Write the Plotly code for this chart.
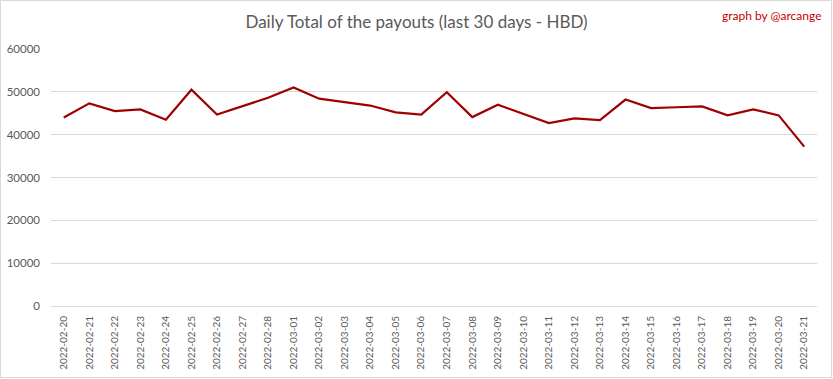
import plotly.graph_objects as go

dates = ["2022-02-20", "2022-02-21", "2022-02-22", "2022-02-23", "2022-02-24", "2022-02-25",
         "2022-02-26", "2022-02-27", "2022-02-28", "2022-03-01", "2022-03-02", "2022-03-03",
         "2022-03-04", "2022-03-05", "2022-03-06", "2022-03-07", "2022-03-08", "2022-03-09",
         "2022-03-10", "2022-03-11", "2022-03-12", "2022-03-13", "2022-03-14", "2022-03-15",
         "2022-03-16", "2022-03-17", "2022-03-18", "2022-03-19", "2022-03-20", "2022-03-21"]
payouts = [44000, 47300, 45500, 45900, 43500, 50500,
           44700, 46700, 48600, 51000, 48400, 47600,
           46800, 45200, 44700, 49900, 44100, 47000,
           44900, 42700, 43800, 43400, 48200, 46200,
           46400, 46600, 44500, 45900, 44500, 37200]
y_ticks = [0, 10000, 20000, 30000, 40000, 50000, 60000]

W, H = 833, 379
ml, mr, mt, mb = 51, 16, 49, 73
pw, ph = W - ml - mr, H - mt - mb

fig = go.Figure(go.Scatter(
    x=dates, y=payouts, mode="lines",
    line=dict(color="#a00000", width=2.2),
))

fig.update_layout(
    width=W, height=H,
    margin=dict(l=ml, r=mr, t=mt, b=mb, autoexpand=False),
    paper_bgcolor="white", plot_bgcolor="white",
    showlegend=False,
    font=dict(family="Lato, Open Sans, sans-serif", color="#595959", size=12),
    title=dict(text="Daily Total of the payouts (last 30 days - HBD)",
               x=0.5, xref="container", xanchor="center", y=1 - 22 / H, yanchor="middle",
               font=dict(size=17, color="#595959", family="Lato, sans-serif")),
    xaxis=dict(type="category", range=[-0.5, len(dates) - 0.5], tickangle=-90,
               showgrid=False, showline=False,
               ticks="", ticklabelstandoff=7, tickfont=dict(size=10, color="#595959"),
               fixedrange=True, automargin=False),
    yaxis=dict(range=[0, 60000], tickvals=y_ticks, ticktext=[str(v) for v in y_ticks],
               showgrid=True, gridcolor="#d9d9d9", gridwidth=1, zeroline=True,
               zerolinecolor="#d9d9d9", zerolinewidth=1, showline=False, ticks="",
               ticklabelstandoff=10, automargin=False,
               tickfont=dict(size=11.5, color="#595959")),
)

fig.add_annotation(text="graph by @arcange", xref="paper", yref="paper",
                   x=1 + 7 / pw, y=1 + (mt - 15) / ph, xanchor="right", yanchor="middle",
                   showarrow=False, font=dict(size=12, color="#c00000", family="Lato, sans-serif"))

fig.add_shape(type="rect", xref="paper", yref="paper",
              x0=-(ml - 0.5) / pw, x1=1 + (mr - 1.5) / pw,
              y0=-(mb - 1.5) / ph, y1=1 + (mt - 0.5) / ph,
              line=dict(color="#d9d9d9", width=1), layer="below")

fig.write_html("out.html", config={"displayModeBar": False},
               post_script="document.body.style.margin='0';document.body.style.overflow='hidden';")
